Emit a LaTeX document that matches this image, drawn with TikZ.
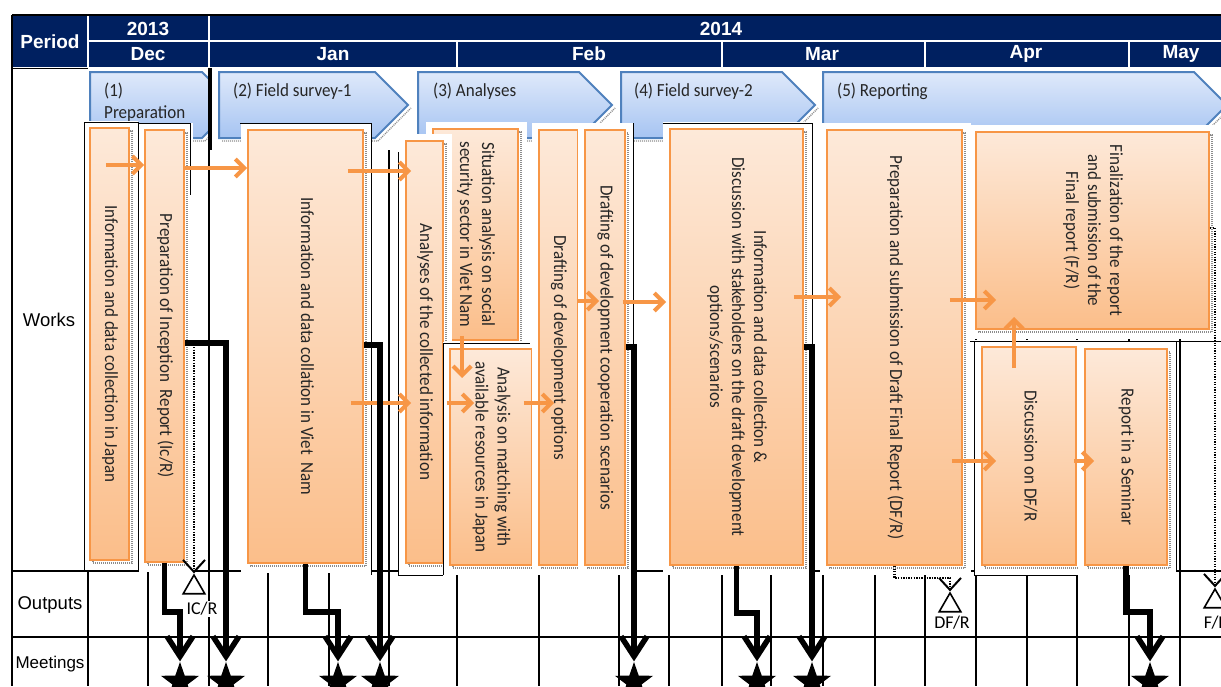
\documentclass[tikz,border=0pt]{standalone}
\usepackage{graphicx}
\usepackage{fontspec}
\setmainfont{Liberation Sans}
\newfontfamily\calfont{Carlito}
\newfontfamily\boxfont[FakeStretch=0.92]{Carlito}
\usetikzlibrary{arrows.meta,shapes.geometric}

\definecolor{hdrnavy}{HTML}{002060}
\definecolor{oline}{HTML}{F79646}
\definecolor{otop}{HTML}{FDE9D9}
\definecolor{obot}{HTML}{FBBE8A}
\definecolor{ctop}{HTML}{DFE9FA}
\definecolor{cbot}{HTML}{A6C4F2}
\definecolor{cline}{HTML}{4F81BD}
\definecolor{boxtext}{HTML}{262626}

% text set top-to-bottom inside a tall box
\newcommand{\vlines}[1]{\rotatebox{-90}{\begin{tabular}{@{}c@{}}#1\end{tabular}}}

% task box: white mat, dotted shadow, shaded box (name, x1, y1, x2, y2, text)
\newcommand{\taskbox}[6]{%
  \fill[white] ({#2-7},{#3-7}) rectangle ({#4+9},{#5+10});
  \draw[boxshadow] ({#2+3},{#3+3}) rectangle ({#4+3},{#5+3});
  \node[taskstyle, minimum width={#4-#2}, minimum height={#5-#3}] (#1) at ({(#2+#4)/2},{(#3+#5)/2}) {\vlines{#6}};
}

% phase arrow (left x, tip x)
\newcommand{\phase}[2]{%
  \draw[boxshadow] ({#2-30},141) -- ({#2+3},108) ({#1+3},141) -- ({#2-30},141);
  \path[chevron] (#1,72) -- ({#2-33},72) -- (#2,105) -- ({#2-33},138) -- (#1,138) -- cycle;
}

\begin{document}
\begin{tikzpicture}[x=1pt,y=-1pt,
  taskstyle/.style={draw=oline, line width=1.8pt, top color=otop, bottom color=obot,
    inner sep=0pt, text=boxtext, font=\boxfont\fontsize{18.5}{22}\selectfont},
  boxshadow/.style={draw=black!45, line width=1.4pt, dash pattern=on 1pt off 1pt},
  chevron/.style={draw=cline, line width=2pt, top color=ctop, bottom color=cbot},
  phasetext/.style={font=\boxfont\fontsize{18.5}{22}\selectfont, text=black!85,
    inner sep=0pt, anchor=west, align=left},
  gridline/.style={line width=1.1pt, black},
  frameline/.style={line width=0.9pt, black},
  flow/.style={draw=oline, line width=4pt, -{Straight Barb[length=9pt,width=18pt]}},
  route/.style={line width=5.5pt, black, -{Straight Barb[length=20pt,width=26pt]}},
  dotroute/.style={line width=2.6pt, black, dash pattern=on 1.3pt off 1.3pt,
    -{Straight Barb[length=12pt,width=22pt,line width'=2pt]}},
  meeting/.style={star, star points=5, star point ratio=2.5, fill=black, inner sep=0pt, minimum size=40pt},
  outmark/.style={regular polygon, regular polygon sides=3, draw, line width=1.6pt,
    inner sep=0pt, minimum size=25pt},
  outlabel/.style={font=\calfont\fontsize{18}{20}\selectfont, fill=white, inner sep=1pt},
  rowlabel/.style={font=\fontsize{18.5}{20}\selectfont},
  hdr/.style={font=\bfseries\fontsize{19}{20}\selectfont, text=white},
]
\useasboundingbox (0,0) rectangle (1221,686);
\clip (0,0) rectangle (1221,686);
\fill[white] (0,0) rectangle (1221,686);

% weekly grid and row rules
\foreach \gx in {148,268,329,389,457,539,619,669,722,771,823,875,925,976,1027,1077,1129,1180}
  \draw[gridline] (\gx,150) -- (\gx,686);
\draw[gridline] (88,571) -- (88,686);
\draw[gridline] (12,571) -- (1221,571);
\draw[gridline, line width=1.6pt] (12,637) -- (1221,637);

% header band
\draw[line width=1.5pt] (12,15) -- (1221,15);
\fill[hdrnavy] (12,16) rectangle (1221,67);
\draw[white, line width=2.5pt] (88,16) -- (88,67) (209,16) -- (209,67) (88,41) -- (1221,41)
  (457,41) -- (457,67) (722,41) -- (722,67) (925,41) -- (925,67) (1129,41) -- (1129,67);
\node[hdr] (hperiod) at (50,42) {Period};
\node[hdr] (y2013) at (148,29) {2013};
\node[hdr] (y2014) at (721,29) {2014};
\node[hdr] (mdec) at (148,54) {Dec};
\node[hdr] (mjan) at (333,54) {Jan};
\node[hdr] (mfeb) at (589,54) {Feb};
\node[hdr] (mmar) at (822,54) {Mar};
\node[hdr] (mapr) at (1026,54) {Apr};
\node[hdr] (mmay) at (1181,54) {May};
\draw[line width=1.5pt] (12,15) -- (12,686);
\draw[frameline] (12,68) -- (88,68);

% row labels
\node[rowlabel] (rworks) at (49,320) {Works};
\node[rowlabel] (routs) at (50,605) {Outputs};
\node[rowlabel, font=\fontsize{17}{20}\selectfont] (rmeet) at (50,664) {Meetings};

% phases
\phase{90}{235}
\fill[white] (210,68) rectangle (218,150);
\phase{219}{408}
\phase{418}{612}
\phase{621}{815}
\phase{823}{1227}
\node[phasetext] (p1) at (104,102) {(1)\\Preparation};
\node[phasetext] (p2) at (233,91) {(2) Field survey-1};
\node[phasetext] (p3) at (433,91) {(3) Analyses};
\node[phasetext] (p4) at (634,91) {(4) Field survey-2};
\node[phasetext] (p5) at (837,91) {(5) Reporting};

% tasks
\taskbox{b1}{90}{128}{129}{560}{Information and data collection in Japan}
\taskbox{b2}{145}{130}{184}{562}{Preparation of Inception\ \ Report (Ic/R)}
\taskbox{b3}{248}{130}{363}{563}{Information and data collation in Viet\ \ Nam}
\taskbox{b5}{433}{129}{518}{340}{Situation analysis on social\\security sector in Viet Nam}
\taskbox{b4}{406}{141}{443}{563}{Analyses of the collected information}
\taskbox{b6}{450}{349}{532}{565}{Analysis on matching with\\available resources in Japan}
\taskbox{b7}{539}{130}{578}{565}{Drafting of development options}
\taskbox{b8}{585}{130}{625}{565}{Drafting of development cooperation scenarios}
\taskbox{b9}{670}{129}{803}{565}{Information and data collection \&\\Discussion with stakeholders on the draft development\\options/scenarios}
\taskbox{b10}{827}{130}{962}{565}{Preparation and submission of Draft Final Report (DF/R)}
\taskbox{b11}{976}{132}{1209}{329}{Finalization of the report\\and submission of the\\Final report (F/R)}
\taskbox{b12}{982}{347}{1076}{565}{Discussion on DF/R}
\taskbox{b13}{1085}{349}{1167}{565}{Report in a Seminar}

% frame edges of the task groups
\draw[frameline] (84,122) -- (84,572) (84,122) -- (138,122) -- (138,572)
  (138,123) -- (190,123) -- (190,195)
  (240,123) -- (371,123) -- (371,575)
  (398,152) -- (398,575) -- (443,575) (443,343) -- (443,575) (443,343) -- (530,343)
  (633,123) -- (633,345) (663,123) -- (812,123) -- (812,345)
  (970,341) -- (1221,341) (974,341) -- (974,575) -- (1077,575) (1176,341) -- (1176,571);
\draw[gridline] (209,68) -- (209,686) (211,68) -- (211,150);

% work flow
\draw[flow] ([xshift=-24pt]b1.east |- 0,165) -- (b2.west |- 0,165);
\draw[flow] (b2.east |- 0,168) -- (b3.west |- 0,168);
\draw[flow] ([xshift=-16pt]b3.east |- 0,171) -- ([xshift=6pt]b4.west |- 0,171);
\draw[flow] ([xshift=-13pt]b3.east |- 0,403) -- ([xshift=6pt]b4.west |- 0,403);
\draw[flow] ([xshift=3pt]b4.east |- 0,403) -- ([xshift=25pt]b6.west |- 0,403);
\draw[flow] ([xshift=30pt,yshift=5pt]b5.south west) -- ++(0,42);
\draw[flow] ([xshift=-9pt]b6.east |- 0,403) -- ([xshift=16pt]b7.west |- 0,403);
\draw[flow] ([xshift=-2pt]b7.east |- 0,301) -- ([xshift=15pt]b8.west |- 0,301);
\draw[flow] ([xshift=-3pt]b8.east |- 0,302) -- ([xshift=-3pt]b9.west |- 0,302);
\draw[flow] ([xshift=-10pt]b9.east |- 0,297) -- ([xshift=15pt]b10.west |- 0,297);
\draw[flow] ([xshift=-13pt]b10.east |- 0,300) -- ([xshift=21pt]b11.west |- 0,300);
\draw[flow] ([xshift=-11pt]b10.east |- 0,461) -- ([xshift=15pt]b12.west |- 0,461);
\draw[flow] ([xshift=-3pt]b12.east |- 0,461) -- ([xshift=10pt]b13.west |- 0,461);
\draw[flow] ([xshift=33pt,yshift=-22pt]b12.north west) -- ++(0,-51);

% meetings
\node[meeting] (m1) at (180,682) {};
\node[meeting] (m2) at (226,682) {};
\node[meeting] (m3) at (338,682) {};
\node[meeting] (m4) at (380,682) {};
\node[meeting] (m5) at (634,682) {};
\node[meeting] (m6) at (757,682) {};
\node[meeting] (m7) at (812,682) {};
\node[meeting] (m8) at (1150,682) {};

% outputs
\node[outmark] (o1) at (194,587.5) {};
\node[outmark] (o2) at (950,605.5) {};
\node[outmark] (o3) at (1215,601.5) {};
\node[outlabel] (l1) at (202,609) {IC/R};
\node[outlabel] (l2) at (952,623) {DF/R};
\node[outlabel] (l3) at (1216,623) {F/R};
\coordinate (d1s) at (194,347);

% routes to meetings
\draw[route] (b2.south) -- (b2.south |- 0,612) -- (m1.north |- 0,612) -- (m1.north);
\draw[route] (b2.east |- 0,343) -- (m2.north |- 0,343) -- (m2.north);
\draw[route] (b3.south) -- (b3.south |- 0,612) -- (m3.north |- 0,612) -- (m3.north);
\draw[route] (b3.east |- 0,345) -- (m4.north |- 0,345) -- (m4.north);
\draw[route] (b8.east |- 0,347) -- (m5.north |- 0,347) -- (m5.north);
\draw[route] (b9.south) -- (b9.south |- 0,613) -- (m6.north |- 0,613) -- (m6.north);
\draw[route] (b9.east |- 0,347) -- (m7.north |- 0,347) -- (m7.north);
\draw[route] (b13.south) -- (b13.south |- 0,612) -- (m8.north |- 0,612) -- (m8.north);

% routes to outputs
\draw[dotroute] (d1s) -- (o1.north);
\draw[dotroute] (b10.south) -- (b10.south |- 0,578) -- (o2.north |- 0,578) -- (o2.north);
\draw[dotroute] (b11.east |- 0,228) -- (o3.north |- 0,228) -- (o3.north);
\end{tikzpicture}
\end{document}
